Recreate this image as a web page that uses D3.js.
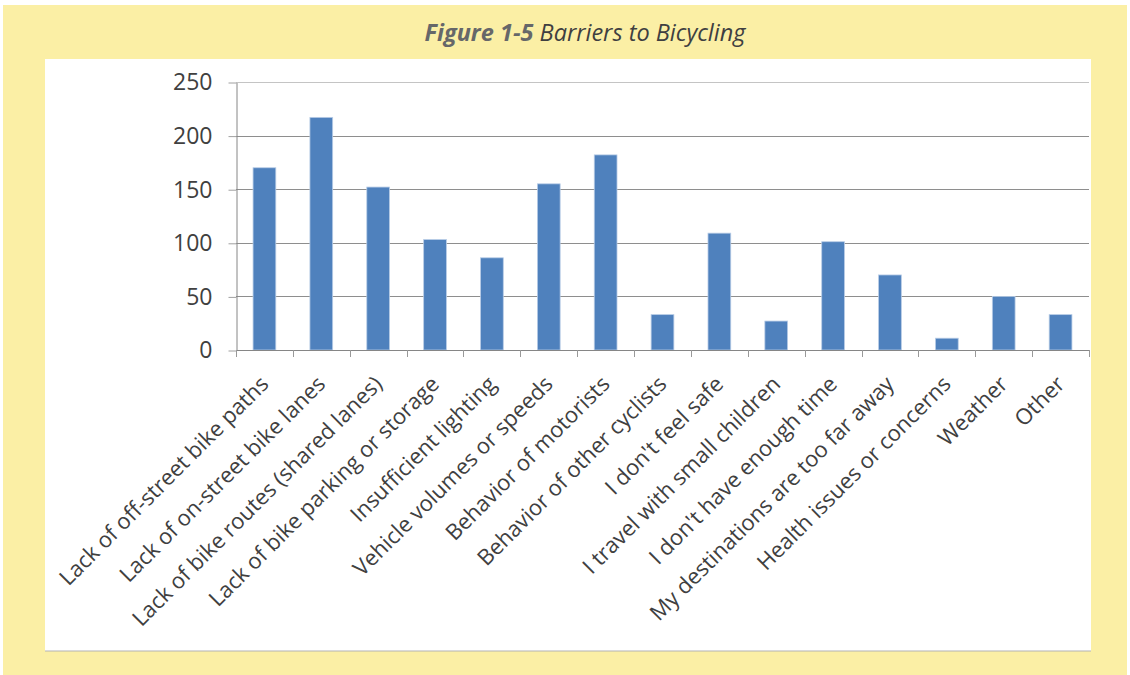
<!DOCTYPE html>
<html>
<head>
<meta charset="utf-8">
<script src="https://cdn.jsdelivr.net/npm/d3@7"></script>
<style>
  html, body { margin: 0; padding: 0; background: #ffffff; }
  svg { display: block; }
</style>
</head>
<body>
<svg id="chart" width="1130" height="675"></svg>
<script>
const categories = [
  "Lack of off-street bike paths",
  "Lack of on-street bike lanes",
  "Lack of bike routes (shared lanes)",
  "Lack of bike parking or storage",
  "Insufficient lighting",
  "Vehicle volumes or speeds",
  "Behavior of motorists",
  "Behavior of other cyclists",
  "I don't feel safe",
  "I travel with small children",
  "I don't have enough time",
  "My destinations are too far away",
  "Health issues or concerns",
  "Weather",
  "Other"
];
const values = [170, 217, 152, 103, 86, 155, 182, 33, 109, 27, 101, 70, 11, 50, 33];
const yTicks = [0, 50, 100, 150, 200, 250];
const titleBold = "Figure 1-5";
const titleRest = " Barriers to Bicycling";

(function () {
const svg = d3.select("#chart");
const W = 1130, H = 675;

// backgrounds
svg.append("rect").attr("x", 3).attr("y", 5).attr("width", 1124).attr("height", H - 5).attr("fill", "#fbefa5");
svg.append("rect").attr("x", 45).attr("y", 59).attr("width", 1046).attr("height", 592).attr("fill", "#ffffff");
svg.append("line").attr("x1", 45).attr("x2", 1091).attr("y1", 651).attr("y2", 651)
  .attr("stroke", "#b4b4b4").attr("stroke-width", 1.2);

// title
const title = svg.append("text").attr("x", 585).attr("y", 41).attr("text-anchor", "middle")
  .style("font-family", "'Open Sans', 'Noto Sans', sans-serif").style("font-style", "italic")
  .style("font-size", "23.5px").attr("fill", "#3f3f41");
title.append("tspan").text(titleBold).style("font-weight", "bold").attr("fill", "#666769");
title.append("tspan").text(titleRest);

const pLeft = 236, pRight = 1089, pTop = 82, pBottom = 350;

const x = d3.scaleBand().domain(categories).range([pLeft, pRight]).paddingInner(0.6).paddingOuter(0.3);
const y = d3.scaleLinear().domain([0, 250]).range([pBottom, pTop]);

// gridlines
svg.append("g").selectAll("line").data(yTicks.filter(d => d > 0)).join("line")
  .attr("x1", pLeft).attr("x2", pRight)
  .attr("y1", d => Math.round(y(d)) + 0.5).attr("y2", d => Math.round(y(d)) + 0.5)
  .attr("stroke", d => d === 250 ? "#c4c4c4" : "#8e8e8e").attr("stroke-width", 1);

// y axis
const yAxis = svg.append("g").attr("transform", `translate(${pLeft + 0.5},0.5)`)
  .call(d3.axisLeft(y).tickValues(yTicks).tickSize(8).tickPadding(16).tickSizeOuter(0));
yAxis.select(".domain").attr("stroke", "#868686");
yAxis.selectAll(".tick line").attr("stroke", "#a0a0a0");
yAxis.selectAll(".tick text")
  .style("font-family", "'Open Sans', 'Noto Sans', sans-serif").style("font-size", "23px")
  .attr("fill", "#404040");

// bars
svg.append("g").selectAll("rect").data(categories).join("rect")
  .attr("x", d => x(d))
  .attr("y", (d, i) => y(values[i]))
  .attr("width", x.bandwidth())
  .attr("height", (d, i) => y(0) - y(values[i]))
  .attr("fill", "#4f81bd")
  .attr("stroke", "#b8cce6").attr("stroke-width", 0.8);

// x axis line and boundary ticks
const step = x.step();
const boundaries = d3.range(categories.length + 1).map(i => x(categories[0]) - step * x.paddingOuter() + i * step);
svg.append("line").attr("x1", pLeft).attr("x2", pRight).attr("y1", pBottom + 0.5).attr("y2", pBottom + 0.5)
  .attr("stroke", "#868686").attr("stroke-width", 1.2);
svg.append("g").selectAll("line").data(boundaries).join("line")
  .attr("x1", d => Math.round(d) + 0.5).attr("x2", d => Math.round(d) + 0.5)
  .attr("y1", pBottom).attr("y2", pBottom + 7)
  .attr("stroke", "#999999").attr("stroke-width", 1);

// category labels
svg.append("g").selectAll("text").data(categories).join("text")
  .attr("transform", d => `translate(${x(d) + x.bandwidth() / 2},380) rotate(-45)`)
  .attr("text-anchor", "end").attr("dy", "0.35em")
  .style("font-family", "'Open Sans', 'Noto Sans', sans-serif").style("font-size", "22px")
  .attr("fill", "#404040")
  .text(d => d);
})();
</script>
</body>
</html>
